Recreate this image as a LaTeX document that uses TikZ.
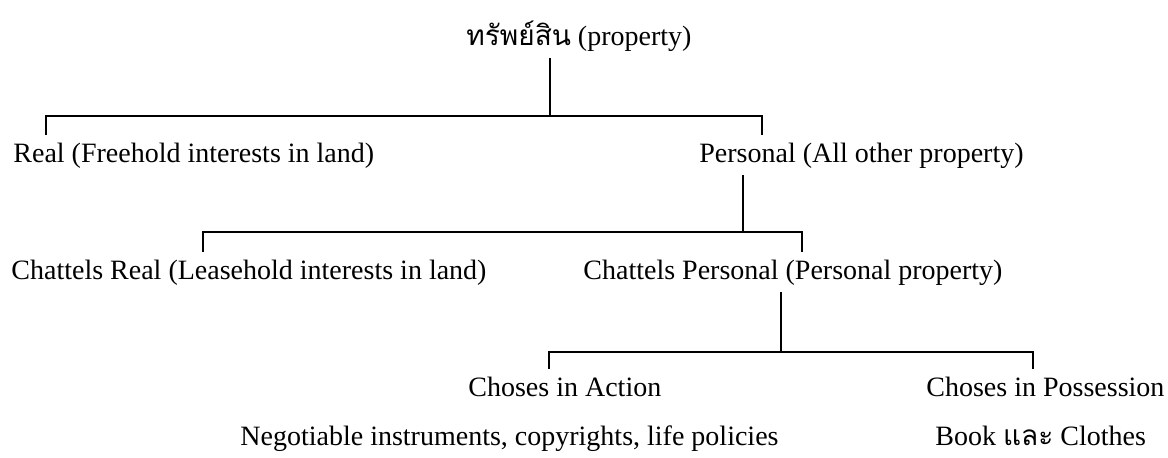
\documentclass[tikz,border=0pt]{standalone}
\usepackage{fontspec}
\setmainfont{Liberation Serif}
\newfontfamily\thaifont[Script=Thai]{Loma}
\usepackage{tikz}

\begin{document}
\begin{tikzpicture}[
    x=0.5pt, y=-0.5pt,
    lbl/.style={anchor=base west, inner xsep=0pt, inner ysep=3.5pt, text height=10pt, text depth=3pt, font=\fontsize{14}{17}\selectfont},
    note/.style={lbl, inner ysep=0pt},
    link/.style={line width=0.7pt, draw=black},
]
\useasboundingbox (0,0) rectangle (1168,457);
\node[lbl] (prop) at (466,45) {{\thaifont ทรัพย์สิน} (property)};
\node[lbl] (real) at (13,162) {Real (Freehold interests in land)};
\node[lbl] (personal) at (699,162) {Personal (All other property)};
\node[lbl] (chreal) at (11,279) {Chattels Real (Leasehold interests in land)};
\node[lbl] (chpers) at (583,279) {Chattels Personal (Personal property)};
\node[lbl] (action) at (468,396) {Choses in Action};
\node[lbl] (possess) at (926,396) {Choses in Possession};
\node[note] (actionex) at (240,445) {Negotiable instruments, copyrights, life policies};
\node[note] (possessex) at (935,445) {Book {\thaifont และ} Clothes};
% branch points
\coordinate (j1) at (550,116); \coordinate (j1l) at (46,116); \coordinate (j1r) at (762,116);
\coordinate (j2) at (743,232); \coordinate (j2l) at (203,232); \coordinate (j2r) at (802,232);
\coordinate (j3) at (781,352); \coordinate (j3l) at (549,352); \coordinate (j3r) at (1033,352);
\draw[link] (prop.south -| j1) -- (j1);
\draw[link] (real.north -| j1l) -- (j1l) -- (j1r) -- (personal.north -| j1r);
\draw[link] (personal.south -| j2) -- (j2);
\draw[link] (chreal.north -| j2l) -- (j2l) -- (j2r) -- (chpers.north -| j2r);
\draw[link] (chpers.south -| j3) -- (j3);
\draw[link] (action.north -| j3l) -- (j3l) -- (j3r) -- (possess.north -| j3r);
\end{tikzpicture}
\end{document}
